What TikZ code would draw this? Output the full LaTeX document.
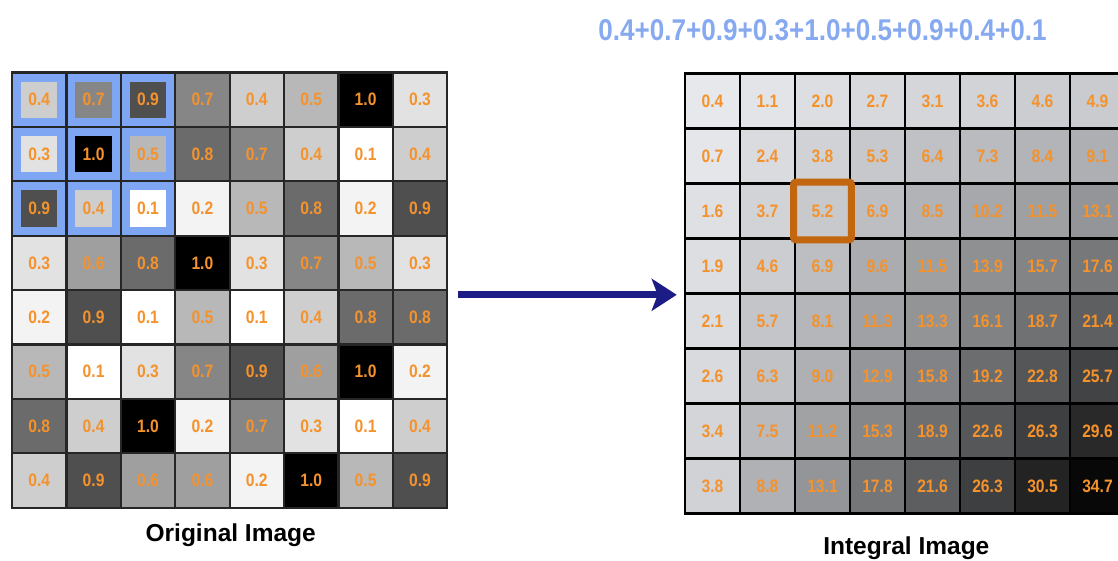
\documentclass[tikz,border=0pt]{standalone}
\usepackage{fontspec}
\setmainfont{Liberation Sans}
\newfontfamily\numfont{Liberation Sans}[FakeStretch=0.87]
\usetikzlibrary{arrows.meta,positioning}
\definecolor{numorange}{HTML}{F5922B}
\definecolor{winblue}{HTML}{7EA6F2}
\definecolor{sumblue}{HTML}{86A9F0}
\definecolor{boxorange}{HTML}{C2660F}
\definecolor{arrownavy}{HTML}{1C1C85}
\definecolor{ibase}{HTML}{F0F2F6}
\colorlet{pixshade}{white}
\colorlet{cellfill}{white}
\colorlet{ishade}{white}
\tikzset{
  pixel/.style={draw=black!85,line width=2.2pt,fill=cellfill,minimum width=54.4pt,
    minimum height=54.4pt,inner sep=0pt,text=numorange,
    font=\numfont\bfseries\fontsize{18}{18}\selectfont,
    path picture={\fill[pixshade] ([shift={(9pt,-9pt)}]path picture bounding box.north west)
      rectangle ([shift={(-9pt,9pt)}]path picture bounding box.south east);}},
  integral/.style={draw=black,line width=2.6pt,fill=ishade,minimum width=55pt,
    minimum height=55pt,inner sep=0pt,text=numorange,
    font=\numfont\bfseries\fontsize{18}{18}\selectfont},
  caption/.style={font=\bfseries\fontsize{24.5}{24.5}\selectfont,inner sep=0pt},
  sumtext/.style={font=\numfont\bfseries\fontsize{30}{30}\selectfont,text=sumblue,inner sep=0pt},
  flowarrow/.style={-{Stealth[length=25pt,width=32pt,inset=6pt]},draw=arrownavy,line width=7pt},
  picked/.style={draw=boxorange,line width=7pt,rounded corners=2pt}
}
\begin{document}
\begin{tikzpicture}[x=1pt,y=-1pt]
  \useasboundingbox (0,0) rectangle (1118,560);
  % original image
  \foreach \row [count=\r] in {{0.4,0.7,0.9,0.7,0.4,0.5,1.0,0.3},{0.3,1.0,0.5,0.8,0.7,0.4,0.1,0.4},
      {0.9,0.4,0.1,0.2,0.5,0.8,0.2,0.9},{0.3,0.6,0.8,1.0,0.3,0.7,0.5,0.3},
      {0.2,0.9,0.1,0.5,0.1,0.4,0.8,0.8},{0.5,0.1,0.3,0.7,0.9,0.6,1.0,0.2},
      {0.8,0.4,1.0,0.2,0.7,0.3,0.1,0.4},{0.4,0.9,0.6,0.6,0.2,1.0,0.5,0.9}} {
    \foreach \v [count=\c] in \row {
      \pgfmathsetmacro\g{\v>0.95 ? 100 : 69*(max(\v-0.1,0.001)/0.8)^1.3}
      \colorlet{pixshade}{black!\g}
      \pgfmathtruncatemacro\inwin{(\r<4)&&(\c<4)}
      \ifnum\inwin=1 \colorlet{cellfill}{winblue}\else\colorlet{cellfill}{pixshade}\fi
      \node[pixel] (o-\r-\c) at ({12+(\c-0.5)*54.4},{72.5+(\r-0.5)*54.4}) {\v};
    }
  }
  % integral image
  \foreach \row [count=\r] in {{0.4,1.1,2.0,2.7,3.1,3.6,4.6,4.9},{0.7,2.4,3.8,5.3,6.4,7.3,8.4,9.1},
      {1.6,3.7,5.2,6.9,8.5,10.2,11.5,13.1},{1.9,4.6,6.9,9.6,11.5,13.9,15.7,17.6},
      {2.1,5.7,8.1,11.3,13.3,16.1,18.7,21.4},{2.6,6.3,9.0,12.9,15.8,19.2,22.8,25.7},
      {3.4,7.5,11.2,15.3,18.9,22.6,26.3,29.6},{3.8,8.8,13.1,17.8,21.6,26.3,30.5,34.7}} {
    \foreach \v [count=\c] in \row {
      \pgfmathsetmacro\g{min(2.7*\v+3,97)}
      \colorlet{ishade}{black!\g!ibase}
      \node[integral] (ii-\r-\c) at ({685+(\c-0.5)*55},{73.5+(\r-0.5)*55}) {\v};
    }
  }
  \draw[picked] (ii-3-3.north west) rectangle (ii-3-3.south east);
  \node[sumtext,above=31pt of ii-1-3.north] (window-sum) {0.4+0.7+0.9+0.3+1.0+0.5+0.9+0.4+0.1};
  \node[caption,below=15pt of o-8-4.south east] (orig-title) {Original Image};
  \node[caption,below=22pt of ii-8-4.south east] (int-title) {Integral Image};
  \draw[flowarrow] ([xshift=10pt]o-4-8.south east |- ii-4-1.south west) -- ([xshift=-7pt]ii-4-1.south west);
\end{tikzpicture}
\end{document}
